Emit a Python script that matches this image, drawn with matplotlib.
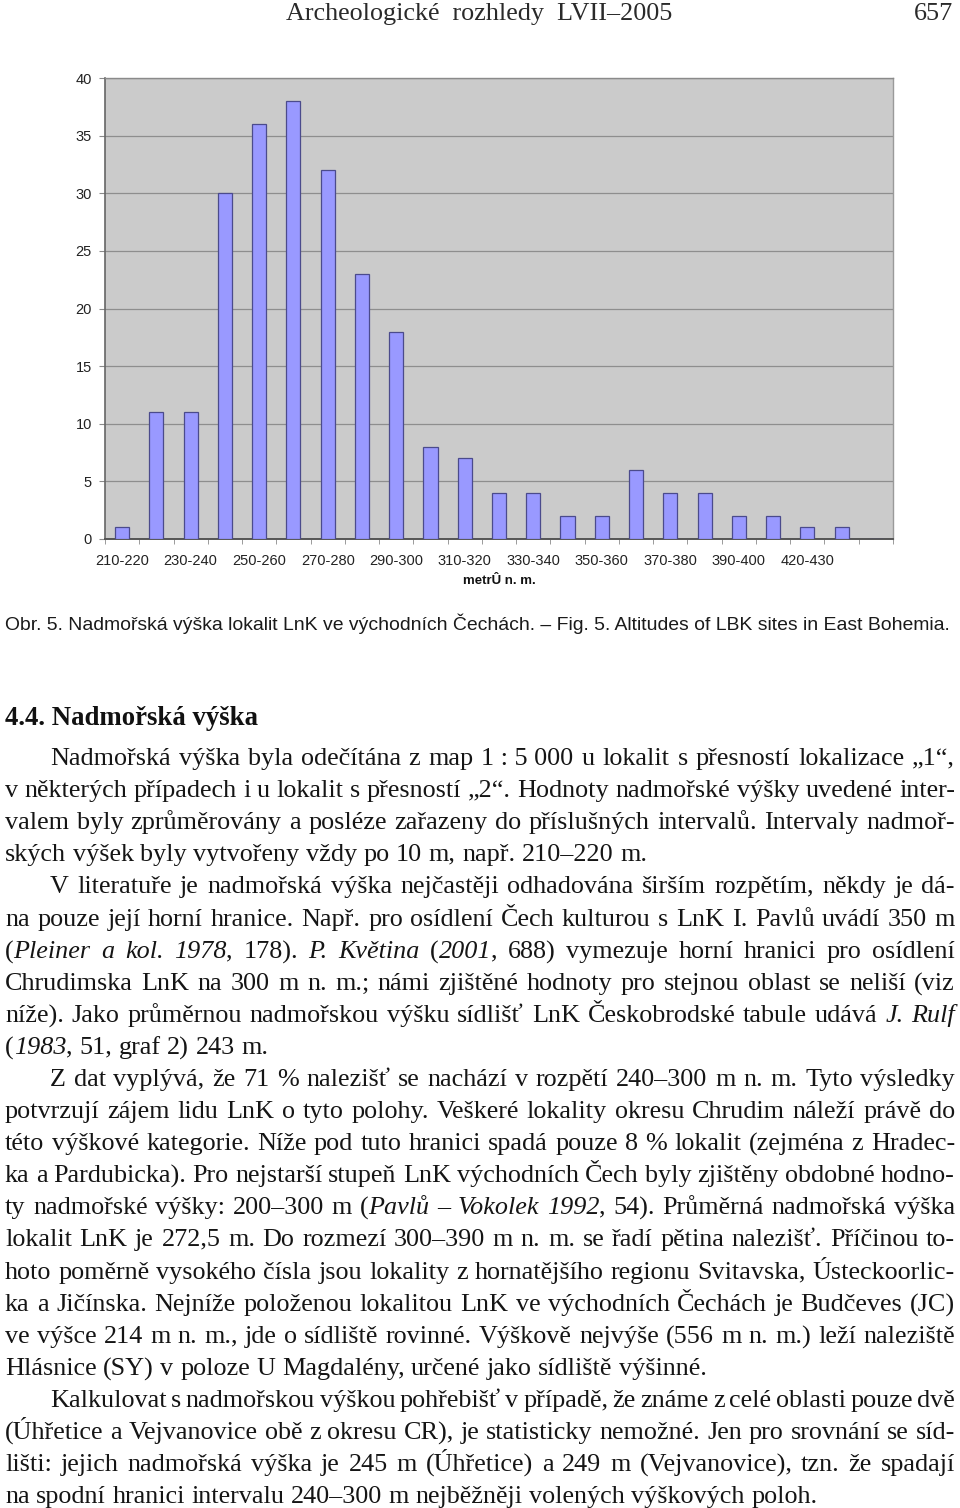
import matplotlib
matplotlib.use("Agg")
import matplotlib.pyplot as plt
import numpy as np
from matplotlib.font_manager import FontProperties
from matplotlib.backends.backend_agg import get_hinting_flag

W, H = 960, 1508

# number of sites per 10 m altitude interval (last slot is empty in the original)
counts = [1, 11, 11, 30, 36, 38, 32, 23, 18, 8, 7, 4, 4, 2, 2, 6, 4, 4, 2, 2, 1, 1, 0]
tick_labels = ["210-220", "230-240", "250-260", "270-280", "290-300", "310-320",
               "330-340", "350-360", "370-380", "390-400", "420-430"]
y_ticks = [0, 5, 10, 15, 20, 25, 30, 35, 40]

header = "Archeologické  rozhledy  LVII–2005"
page_no = "657"
caption = ("Obr. 5. Nadmořská výška lokalit LnK ve východních Čechách. – "
           "Fig. 5. Altitudes of LBK sites in East Bohemia.")
heading = "4.4. Nadmořská výška"

# body text: (text with *italic* marks, indent, justified)
NB = "\u00a0"
body = [
    ("Nadmořská výška byla odečítána z map 1" + NB + ":" + NB + "5" + NB + "000 u lokalit s přesností lokalizace „1“,", True, True),
    ("v některých případech i u lokalit s přesností „2“. Hodnoty nadmořské výšky uvedené inter-", False, True),
    ("valem byly zprůměrovány a posléze zařazeny do příslušných intervalů. Intervaly nadmoř-", False, True),
    ("ských výšek byly vytvořeny vždy po 10 m, např. 210–220 m.", False, False),
    ("V literatuře je nadmořská výška nejčastěji odhadována širším rozpětím, někdy je dá-", True, True),
    ("na pouze její horní hranice. Např. pro osídlení Čech kulturou s LnK I. Pavlů uvádí 350 m", False, True),
    ("(*Pleiner a kol. 1978*, 178). *P. Květina* (*2001*, 688) vymezuje horní hranici pro osídlení", False, True),
    ("Chrudimska LnK na 300 m n. m.; námi zjištěné hodnoty pro stejnou oblast se neliší (viz", False, True),
    ("níže). Jako průměrnou nadmořskou výšku sídlišť LnK Českobrodské tabule udává *J. Rulf*", False, True),
    ("(*1983*, 51, graf 2) 243 m.", False, False),
    ("Z dat vyplývá, že 71 % nalezišť se nachází v rozpětí 240–300 m n. m. Tyto výsledky", True, True),
    ("potvrzují zájem lidu LnK o tyto polohy. Veškeré lokality okresu Chrudim náleží právě do", False, True),
    ("této výškové kategorie. Níže pod tuto hranici spadá pouze 8 % lokalit (zejména z Hradec-", False, True),
    ("ka a Pardubicka). Pro nejstarší stupeň LnK východních Čech byly zjištěny obdobné hodno-", False, True),
    ("ty nadmořské výšky: 200–300 m (*Pavlů – Vokolek 1992*, 54). Průměrná nadmořská výška", False, True),
    ("lokalit LnK je 272,5 m. Do rozmezí 300–390 m n. m. se řadí pětina nalezišť. Příčinou to-", False, True),
    ("hoto poměrně vysokého čísla jsou lokality z hornatějšího regionu Svitavska, Ústeckoorlic-", False, True),
    ("ka a Jičínska. Nejníže položenou lokalitou LnK ve východních Čechách je Budčeves (JC)", False, True),
    ("ve výšce 214 m n. m., jde o sídliště rovinné. Výškově nejvýše (556 m n. m.) leží naleziště", False, True),
    ("Hlásnice (SY) v poloze U Magdalény, určené jako sídliště výšinné.", False, False),
    ("Kalkulovat s nadmořskou výškou pohřebišť v případě, že známe z celé oblasti pouze dvě", True, True),
    ("(Úhřetice a Vejvanovice obě z okresu CR), je statisticky nemožné. Jen pro srovnání se síd-", False, True),
    ("lišti: jejich nadmořská výška je 245 m (Úhřetice) a 249 m (Vejvanovice), tzn. že spadají", False, True),
    ("na spodní hranici intervalu 240–300 m nejběžněji volených výškových poloh.", False, False),
]

fig = plt.figure(figsize=(W / 100, H / 100), dpi=100)
fig.patch.set_facecolor("white")
renderer = fig.canvas.get_renderer()


def fx(x):
    return x / W


def fy(y):
    return 1 - y / H


def width_of(s, **kw):
    t = fig.text(0, 0, s, **kw)
    w = t.get_window_extent(renderer).width
    t.remove()
    return w


def fit_size(s, target, base, **kw):
    return base * target / width_of(s, fontsize=base, **kw)


# ---- chart ----
ax = fig.add_axes([fx(105), fy(539), (893 - 105) / W, (539 - 78) / H])
ax.set_facecolor("#cbcbcb")
x = np.arange(len(counts))
ax.bar(x, counts, width=0.41, color="#9999ff", edgecolor="#4b4b8c", linewidth=0.9, zorder=3)
ax.set_xlim(-0.5, len(counts) - 0.5)
ax.set_ylim(0, 40)
ax.set_yticks(y_ticks)
ax.yaxis.grid(True, color="#8e8e8e", linewidth=0.9, zorder=1)
ax.set_xticks(x[::2][:len(tick_labels)])
ax.set_xticklabels(tick_labels)
ax.set_xticks(np.arange(-0.5, len(counts), 1), minor=True)
ax.tick_params(axis="x", which="major", length=0, pad=10.5, labelsize=10.5, labelcolor="#222222")
ax.tick_params(axis="x", which="minor", length=3.5, color="#8a8a8a", direction="out")
ax.tick_params(axis="y", length=4, color="#8a8a8a", pad=5.5, labelsize=10.5, labelcolor="#222222")
for lab in ax.get_xticklabels() + ax.get_yticklabels():
    lab.set_family("Liberation Sans")
for side, col, lw in [("left", "#666666", 1.2), ("bottom", "#555555", 1.4),
                      ("top", "#8a8a8a", 1.0), ("right", "#9a9a9a", 1.0)]:
    ax.spines[side].set_color(col)
    ax.spines[side].set_linewidth(lw)
ax.set_xlabel("metrÛ n. m.", fontsize=9.5, fontweight="bold", family="Liberation Sans",
              labelpad=5, color="#111111")

# ---- header ----
hs = fit_size(header, 386, 16, family="Liberation Serif")
fig.text(fx(286), fy(20), header, fontsize=hs, family="Liberation Serif",
         color="#2a2a2a", va="baseline", ha="left")
fig.text(fx(953), fy(20), page_no, fontsize=hs, family="Liberation Serif",
         color="#2a2a2a", va="baseline", ha="right")

# ---- caption ----
cap_kw = dict(family=["Liberation Sans Narrow", "Liberation Sans"])
cs = fit_size(caption, 950, 14, **cap_kw)
fig.text(fx(5), fy(630), caption, fontsize=cs, va="baseline", ha="left", color="#1a1a1a", **cap_kw)

# ---- heading ----
hd_kw = dict(family="Liberation Serif", fontweight="bold")
hds = fit_size(heading, 253, 18, **hd_kw)
fig.text(fx(5), fy(725), heading, fontsize=hds, va="baseline", ha="left", color="#111111", **hd_kw)

# ---- body text, justified word by word ----
FAM = ["Liberation Serif", "DejaVu Serif"]


def parse(line):
    words, ital = [], False
    for w in line.split(" "):
        pieces = []
        for k, part in enumerate(w.split("*")):
            if k > 0:
                ital = not ital
            if part:
                pieces.append((part, ital))
        words.append(pieces)
    return words


def piece_w(p, it, fs):
    return width_of(p, fontsize=fs, family=FAM, style="italic" if it else "normal")


def baseline_shift(s, it, fs):
    # pixel rounding of the glyph bitmap in Agg, so every word sits on one baseline
    fp = FontProperties(family=FAM, style="italic" if it else "normal", size=fs)
    font = renderer._prepare_font(fp)
    font.set_text(s, 0.0, flags=get_hinting_flag())
    _, h_raw = font.get_width_height()
    d_raw = font.get_descent()
    ymax = h_raw - d_raw
    return round(d_raw / 64) + ymax // 64 - h_raw // 64


LEFT, RIGHT, INDENT = 5, 955, 45
parsed = [parse(t) for t, _, _ in body]

base = 20
scale = 10.0
for (t, ind, just), words in zip(body, parsed):
    if not just:
        continue
    tot = sum(piece_w(p, it, base) for pcs in words for p, it in pcs)
    nat = tot + (len(words) - 1) * 0.18 * base * 100 / 72
    avail = RIGHT - (LEFT + INDENT if ind else LEFT)
    scale = min(scale, avail / nat)
fs = base * scale
space = 0.25 * fs * 100 / 72

y0, dy = 765, 32.1
for i, ((t, ind, just), words) in enumerate(zip(body, parsed)):
    wws = [[piece_w(p, it, fs) for p, it in pcs] for pcs in words]
    x0 = LEFT + INDENT if ind else LEFT
    total = sum(sum(w) for w in wws)
    gap = (RIGHT - x0 - total) / (len(words) - 1) if just else space
    xc = x0
    yrow = round(y0 + i * dy)
    for pcs, pw in zip(words, wws):
        for (p, it), w in zip(pcs, pw):
            e = baseline_shift(p, it, fs)
            fig.text(fx(xc), fy(yrow - e), p, fontsize=fs, family=FAM,
                     style="italic" if it else "normal", va="baseline", ha="left",
                     color="#151515")
            xc += w
        xc += gap

fig.savefig("out.png", dpi=100)
